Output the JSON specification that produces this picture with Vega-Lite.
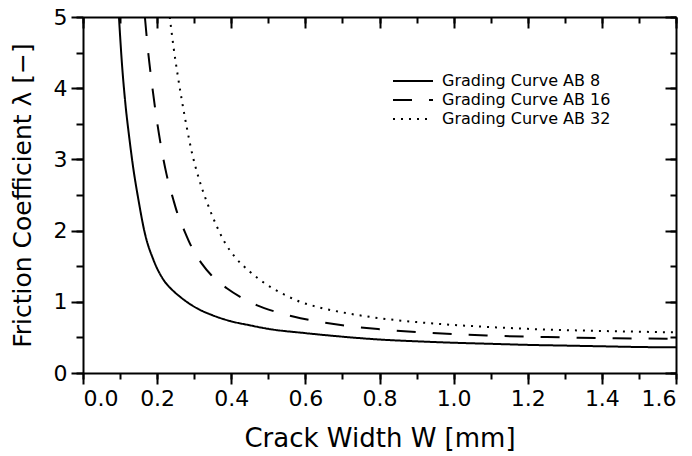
{
  "$schema": "https://vega.github.io/schema/vega-lite/v6.json",
  "width": 593,
  "height": 356,
  "autosize": "none",
  "padding": {"left": 83, "top": 17, "right": 16, "bottom": 83},
  "background": "white",
  "config": {"view": {"stroke": null}, "font": "DejaVu Sans"},
  "data": {
    "values": [
      {"series": "Grading Curve AB 8", "w": 0.097, "lambda": 5.0},
      {"series": "Grading Curve AB 8", "w": 0.105, "lambda": 4.35},
      {"series": "Grading Curve AB 8", "w": 0.115, "lambda": 3.75},
      {"series": "Grading Curve AB 8", "w": 0.125, "lambda": 3.3},
      {"series": "Grading Curve AB 8", "w": 0.135, "lambda": 2.9},
      {"series": "Grading Curve AB 8", "w": 0.149, "lambda": 2.45},
      {"series": "Grading Curve AB 8", "w": 0.167, "lambda": 1.96},
      {"series": "Grading Curve AB 8", "w": 0.19, "lambda": 1.59},
      {"series": "Grading Curve AB 8", "w": 0.217, "lambda": 1.31},
      {"series": "Grading Curve AB 8", "w": 0.24, "lambda": 1.17},
      {"series": "Grading Curve AB 8", "w": 0.262, "lambda": 1.07},
      {"series": "Grading Curve AB 8", "w": 0.307, "lambda": 0.91},
      {"series": "Grading Curve AB 8", "w": 0.35, "lambda": 0.81},
      {"series": "Grading Curve AB 8", "w": 0.397, "lambda": 0.73},
      {"series": "Grading Curve AB 8", "w": 0.45, "lambda": 0.67},
      {"series": "Grading Curve AB 8", "w": 0.50, "lambda": 0.62},
      {"series": "Grading Curve AB 8", "w": 0.60, "lambda": 0.56},
      {"series": "Grading Curve AB 8", "w": 0.70, "lambda": 0.51},
      {"series": "Grading Curve AB 8", "w": 0.80, "lambda": 0.47},
      {"series": "Grading Curve AB 8", "w": 0.90, "lambda": 0.445},
      {"series": "Grading Curve AB 8", "w": 1.00, "lambda": 0.425},
      {"series": "Grading Curve AB 8", "w": 1.10, "lambda": 0.41},
      {"series": "Grading Curve AB 8", "w": 1.20, "lambda": 0.395},
      {"series": "Grading Curve AB 8", "w": 1.30, "lambda": 0.385},
      {"series": "Grading Curve AB 8", "w": 1.40, "lambda": 0.375},
      {"series": "Grading Curve AB 8", "w": 1.50, "lambda": 0.365},
      {"series": "Grading Curve AB 8", "w": 1.60, "lambda": 0.36},
      {"series": "Grading Curve AB 16", "w": 0.167, "lambda": 5.0},
      {"series": "Grading Curve AB 16", "w": 0.175, "lambda": 4.55},
      {"series": "Grading Curve AB 16", "w": 0.185, "lambda": 4.1},
      {"series": "Grading Curve AB 16", "w": 0.195, "lambda": 3.7},
      {"series": "Grading Curve AB 16", "w": 0.21, "lambda": 3.2},
      {"series": "Grading Curve AB 16", "w": 0.225, "lambda": 2.8},
      {"series": "Grading Curve AB 16", "w": 0.244, "lambda": 2.43},
      {"series": "Grading Curve AB 16", "w": 0.253, "lambda": 2.27},
      {"series": "Grading Curve AB 16", "w": 0.275, "lambda": 1.98},
      {"series": "Grading Curve AB 16", "w": 0.293, "lambda": 1.77},
      {"series": "Grading Curve AB 16", "w": 0.32, "lambda": 1.54},
      {"series": "Grading Curve AB 16", "w": 0.347, "lambda": 1.37},
      {"series": "Grading Curve AB 16", "w": 0.388, "lambda": 1.19},
      {"series": "Grading Curve AB 16", "w": 0.424, "lambda": 1.07},
      {"series": "Grading Curve AB 16", "w": 0.47, "lambda": 0.95},
      {"series": "Grading Curve AB 16", "w": 0.52, "lambda": 0.86},
      {"series": "Grading Curve AB 16", "w": 0.57, "lambda": 0.79},
      {"series": "Grading Curve AB 16", "w": 0.617, "lambda": 0.74},
      {"series": "Grading Curve AB 16", "w": 0.70, "lambda": 0.67},
      {"series": "Grading Curve AB 16", "w": 0.80, "lambda": 0.615},
      {"series": "Grading Curve AB 16", "w": 0.90, "lambda": 0.575},
      {"series": "Grading Curve AB 16", "w": 1.00, "lambda": 0.545},
      {"series": "Grading Curve AB 16", "w": 1.10, "lambda": 0.525},
      {"series": "Grading Curve AB 16", "w": 1.20, "lambda": 0.51},
      {"series": "Grading Curve AB 16", "w": 1.30, "lambda": 0.50},
      {"series": "Grading Curve AB 16", "w": 1.40, "lambda": 0.49},
      {"series": "Grading Curve AB 16", "w": 1.50, "lambda": 0.485},
      {"series": "Grading Curve AB 16", "w": 1.60, "lambda": 0.48},
      {"series": "Grading Curve AB 32", "w": 0.234, "lambda": 5.0},
      {"series": "Grading Curve AB 32", "w": 0.245, "lambda": 4.55},
      {"series": "Grading Curve AB 32", "w": 0.255, "lambda": 4.2},
      {"series": "Grading Curve AB 32", "w": 0.266, "lambda": 3.85},
      {"series": "Grading Curve AB 32", "w": 0.28, "lambda": 3.45},
      {"series": "Grading Curve AB 32", "w": 0.295, "lambda": 3.07},
      {"series": "Grading Curve AB 32", "w": 0.307, "lambda": 2.83},
      {"series": "Grading Curve AB 32", "w": 0.32, "lambda": 2.61},
      {"series": "Grading Curve AB 32", "w": 0.338, "lambda": 2.35},
      {"series": "Grading Curve AB 32", "w": 0.361, "lambda": 2.06},
      {"series": "Grading Curve AB 32", "w": 0.383, "lambda": 1.83},
      {"series": "Grading Curve AB 32", "w": 0.41, "lambda": 1.63},
      {"series": "Grading Curve AB 32", "w": 0.451, "lambda": 1.42},
      {"series": "Grading Curve AB 32", "w": 0.496, "lambda": 1.24},
      {"series": "Grading Curve AB 32", "w": 0.54, "lambda": 1.11},
      {"series": "Grading Curve AB 32", "w": 0.586, "lambda": 1.0},
      {"series": "Grading Curve AB 32", "w": 0.631, "lambda": 0.93},
      {"series": "Grading Curve AB 32", "w": 0.712, "lambda": 0.84},
      {"series": "Grading Curve AB 32", "w": 0.80, "lambda": 0.77},
      {"series": "Grading Curve AB 32", "w": 0.90, "lambda": 0.715},
      {"series": "Grading Curve AB 32", "w": 1.00, "lambda": 0.675},
      {"series": "Grading Curve AB 32", "w": 1.10, "lambda": 0.645},
      {"series": "Grading Curve AB 32", "w": 1.20, "lambda": 0.62},
      {"series": "Grading Curve AB 32", "w": 1.30, "lambda": 0.603},
      {"series": "Grading Curve AB 32", "w": 1.40, "lambda": 0.59},
      {"series": "Grading Curve AB 32", "w": 1.50, "lambda": 0.58},
      {"series": "Grading Curve AB 32", "w": 1.60, "lambda": 0.57}
    ]
  },
  "layer": [
    {
      "mark": {"type": "line", "color": "black", "strokeWidth": 2, "interpolate": "monotone"},
      "encoding": {
        "x": {
          "field": "w", "type": "quantitative",
          "scale": {"domain": [0, 1.6], "nice": false},
          "axis": {
            "orient": "bottom", "grid": false, "tickCount": 8,
            "ticks": true, "tickSize": 11, "tickColor": "black", "tickWidth": 2,
            "domainColor": "black", "domainWidth": 2,
            "labelFont": "DejaVu Sans", "labelColor": "black", "labelFontSize": 22, "labelPadding": 4,
            "title": "Crack Width W [mm]",
            "titleFont": "DejaVu Sans", "titleColor": "black", "titleFontWeight": "normal", "titleFontSize": 26, "titlePadding": 16
          }
        },
        "y": {
          "field": "lambda", "type": "quantitative",
          "scale": {"domain": [0, 5], "nice": false},
          "axis": {
            "orient": "left", "grid": false, "tickCount": 5,
            "ticks": true, "tickSize": 12, "tickColor": "black", "tickWidth": 2,
            "domainColor": "black", "domainWidth": 2,
            "labelFont": "DejaVu Sans", "labelColor": "black", "labelFontSize": 22, "labelPadding": 4,
            "title": "Friction Coefficient λ [−]",
            "titleFont": "DejaVu Sans", "titleColor": "black", "titleFontWeight": "normal", "titleFontSize": 25, "titlePadding": 18
          }
        },
        "strokeDash": {
          "field": "series", "type": "nominal",
          "scale": {"domain": ["Grading Curve AB 8", "Grading Curve AB 16", "Grading Curve AB 32"], "range": [[1, 0], [19, 17], [2, 6]]},
          "legend": {
            "title": null,
            "orient": "none",
            "legendX": 319,
            "legendY": 53,
            "symbolType": "M-2,0H2",
            "symbolSize": 400,
            "symbolStrokeWidth": 2,
            "symbolStrokeColor": "black",
            "labelFontSize": 16,
            "labelFont": "DejaVu Sans",
            "labelColor": "black",
            "labelOffset": 18,
            "labelLimit": 0,
            "rowPadding": 0,
            "padding": 0
          }
        }
      }
    },
    {
      "mark": {"type": "line", "opacity": 0},
      "encoding": {
        "x": {
          "field": "w", "type": "quantitative",
          "scale": {"domain": [0, 1.6], "nice": false},
          "axis": {"orient": "bottom", "grid": false, "tickCount": 16, "ticks": true, "tickSize": 6, "tickColor": "black", "tickWidth": 2, "labels": false, "domain": false, "title": null}
        },
        "y": {
          "field": "lambda", "type": "quantitative",
          "scale": {"domain": [0, 5], "nice": false},
          "axis": {"orient": "left", "grid": false, "tickCount": 10, "ticks": true, "tickSize": 7, "tickColor": "black", "tickWidth": 2, "labels": false, "domain": false, "title": null}
        },
        "detail": {"field": "series"}
      }
    },
    {
      "mark": {"type": "line", "opacity": 0},
      "encoding": {
        "x": {
          "field": "w", "type": "quantitative",
          "scale": {"domain": [0, 1.6], "nice": false},
          "axis": {"orient": "top", "grid": false, "tickCount": 8, "ticks": true, "tickSize": -11, "tickColor": "black", "tickWidth": 2, "domainColor": "black", "domainWidth": 2, "labels": false, "title": null}
        },
        "y": {
          "field": "lambda", "type": "quantitative",
          "scale": {"domain": [0, 5], "nice": false},
          "axis": {"orient": "right", "grid": false, "tickCount": 5, "ticks": true, "tickSize": -11, "tickColor": "black", "tickWidth": 2, "domainColor": "black", "domainWidth": 2, "labels": false, "title": null}
        },
        "detail": {"field": "series"}
      }
    },
    {
      "mark": {"type": "line", "opacity": 0},
      "encoding": {
        "x": {
          "field": "w", "type": "quantitative",
          "scale": {"domain": [0, 1.6], "nice": false},
          "axis": {"orient": "top", "grid": false, "tickCount": 16, "ticks": true, "tickSize": -6, "tickColor": "black", "tickWidth": 2, "labels": false, "domain": false, "title": null}
        },
        "y": {
          "field": "lambda", "type": "quantitative",
          "scale": {"domain": [0, 5], "nice": false},
          "axis": {"orient": "right", "grid": false, "tickCount": 10, "ticks": true, "tickSize": -6, "tickColor": "black", "tickWidth": 2, "labels": false, "domain": false, "title": null}
        },
        "detail": {"field": "series"}
      }
    }
  ],
  "resolve": {"axis": {"x": "independent", "y": "independent"}}
}
